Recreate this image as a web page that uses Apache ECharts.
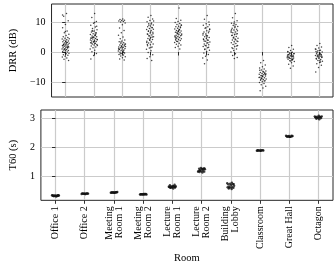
<!DOCTYPE html>
<html><head><meta charset="utf-8">
<script src="https://cdn.jsdelivr.net/npm/echarts@6/dist/echarts.min.js"></script>
<style>html,body{margin:0;padding:0;background:#fff}#c{width:335px;height:265px}</style>
</head><body><div id="c"></div>
<script>
const rooms = ['Office 1','Office 2','Meeting\nRoom 1','Meeting\nRoom 2','Lecture\nRoom 1','Lecture\nRoom 2','Building\nLobby','Classroom','Great Hall','Octagon'];
const drrTicks = [-10, 0, 10];
const t60Ticks = [1, 2, 3];

const drrOffice1 = [12.8,11.9,10.4,9.2,8.1,7.0,6.4,5.9,5.5,5.1,4.8,4.6,4.3,4.1,3.9,3.7,3.5,3.4,3.2,3.0,2.9,2.7,2.6,2.4,2.3,2.1,2.0,1.9,1.7,1.6,1.4,1.3,1.1,1.0,0.8,0.7,0.5,0.4,0.2,0.0,-0.2,-0.4,-0.6,-0.9,-1.1,-1.4,-1.7,-2.0,-2.4,-2.8,3.6,2.2,1.5,0.9,4.4,3.1,2.5,1.8,6.8,12.3];
const drrOffice2 = [12.8,11.5,10.2,9.6,8.9,8.3,7.8,7.4,7.0,6.7,6.4,6.1,5.8,5.6,5.3,5.1,4.9,4.7,4.5,4.3,4.1,3.9,3.7,3.5,3.3,3.1,2.9,2.7,2.5,2.3,2.0,1.7,1.4,1.0,0.6,0.1,-0.5,-1.2,-2.3,5.5,4.8,4.2,3.6,3.0,6.3,5.0,4.0,2.8,7.2,8.6,3.4,4.6,5.9,6.9,2.2,9.8];
const drrMeeting1 = [11.0,10.8,10.6,10.5,10.3,10.2,10.0,9.7,9.1,8.0,7.2,6.4,5.6,5.0,4.4,4.0,3.7,3.4,3.1,2.9,2.7,2.5,2.3,2.1,1.9,1.7,1.6,1.4,1.2,1.0,0.9,0.7,0.5,0.3,0.1,-0.1,-0.3,-0.5,-0.8,-1.0,-1.3,-1.6,-1.9,-2.3,-2.7,2.0,1.1,0.4,-0.6,2.6,1.5,0.8,-0.2,3.3,1.8,0.0];
const drrMeeting2 = [12.2,11.6,11.0,10.5,10.1,9.7,9.4,9.0,8.7,8.4,8.1,7.8,7.5,7.2,6.9,6.6,6.3,6.0,5.7,5.4,5.1,4.8,4.5,4.2,3.9,3.6,3.3,3.0,2.7,2.4,2.1,1.7,1.3,0.9,0.4,-0.2,-0.9,-1.6,-2.2,-2.8,8.9,7.6,6.7,5.9,5.0,4.1,3.2,9.3,7.0,6.1,4.6,2.5,8.2,5.3,10.3,1.5];
const drrLecture1 = [14.7,11.2,10.6,10.2,9.8,9.5,9.2,8.9,8.6,8.4,8.1,7.9,7.7,7.4,7.2,7.0,6.8,6.6,6.4,6.2,6.0,5.8,5.6,5.4,5.2,5.0,4.8,4.6,4.4,4.2,4.0,3.8,3.5,3.2,2.9,2.6,2.3,1.9,1.5,1.0,6.5,5.7,7.1,4.9,8.3,6.1,5.3,7.5,3.6,9.0,6.9,4.3];
const drrLecture2 = [12.2,10.9,10.0,9.4,8.9,8.4,7.9,7.5,7.1,6.7,6.4,6.0,5.7,5.4,5.1,4.8,4.5,4.2,3.9,3.6,3.3,3.0,2.7,2.4,2.1,1.8,1.4,1.0,0.6,0.2,-0.3,-0.8,-1.4,-2.0,-2.7,-3.9,6.9,5.5,4.3,3.1,2.2,7.7,5.0,3.7,1.6,8.1,6.2,4.0,0.8,9.1];
const drrLobby = [12.8,11.4,10.4,10.0,9.6,9.2,8.8,8.5,8.2,7.9,7.6,7.3,7.0,6.7,6.4,6.1,5.8,5.5,5.2,4.9,4.6,4.3,4.0,3.7,3.4,3.1,2.8,2.5,2.2,1.8,1.4,1.0,0.5,0.0,-0.6,-1.2,-1.8,-2.2,7.4,6.0,4.7,3.5,8.6,5.6,2.0,9.4,6.6,4.1,1.2,7.1];
const drrClassroom = [-2.8,-3.6,-4.3,-4.9,-5.3,-5.7,-6.0,-6.3,-6.5,-6.8,-7.0,-7.2,-7.4,-7.6,-7.8,-8.0,-8.2,-8.4,-8.6,-8.8,-9.0,-9.2,-9.4,-9.6,-9.9,-10.2,-10.5,-10.9,-11.4,-12.0,-12.9,-7.1,-7.9,-8.5,-6.7,-9.1,-7.5,-8.1,-6.1,-9.7,-8.7,-7.3];
const drrGreatHall = [2.2,1.5,0.9,0.5,0.2,-0.1,-0.3,-0.5,-0.7,-0.9,-1.1,-1.3,-1.4,-1.6,-1.8,-2.0,-2.2,-2.4,-2.6,-2.9,-3.2,-3.6,-4.1,-4.7,-5.4,-1.0,-1.5,-2.1,-0.6,-1.2,-1.7,-2.3,-0.4,-1.9,-2.7,-0.8,-1.4,-3.0,0.0,-2.5];
const drrOctagon = [2.8,2.2,1.7,1.3,0.9,0.6,0.3,0.0,-0.3,-0.6,-0.8,-1.0,-1.2,-1.4,-1.6,-1.8,-2.0,-2.2,-2.5,-2.8,-3.1,-3.5,-3.9,-4.4,-5.2,-6.7,-0.4,-1.1,-1.7,0.5,-2.3,-0.9,-1.5,1.0,-2.9,-0.2,-1.3,-2.0,0.2,-3.3];

const t60Office1 = [0.30,0.31,0.32,0.33,0.34,0.31,0.32,0.33,0.30,0.32,0.34,0.31,0.33,0.32,0.31,0.33];
const t60Office2 = [0.38,0.39,0.40,0.39,0.38,0.40,0.39,0.39,0.38,0.40,0.39,0.39];
const t60Meeting1 = [0.42,0.43,0.44,0.43,0.42,0.44,0.43,0.45,0.42,0.43,0.44,0.43];
const t60Meeting2 = [0.36,0.37,0.38,0.37,0.36,0.38,0.37,0.36,0.38,0.37,0.37,0.36];
const t60Lecture1 = [0.57,0.59,0.60,0.61,0.62,0.63,0.64,0.65,0.66,0.68,0.70,0.61,0.63,0.65,0.60,0.62];
const t60Lecture2 = [1.12,1.14,1.15,1.16,1.17,1.19,1.21,1.23,1.24,1.25,1.26,1.28,1.15,1.24,1.18,1.26];
const t60Lobby = [0.55,0.57,0.59,0.60,0.61,0.62,0.64,0.66,0.69,0.71,0.72,0.73,0.75,0.77,0.60,0.72];
const t60Classroom = [1.87,1.88,1.89,1.88,1.87,1.89,1.88,1.88,1.87,1.89];
const t60GreatHall = [2.35,2.36,2.37,2.38,2.39,2.36,2.37,2.38,2.35,2.37,2.39,2.36];
const t60Octagon = [2.96,2.98,3.00,3.02,3.03,3.04,3.05,3.06,3.08,3.02,3.04,3.00,3.06,3.03];

const drrData = [drrOffice1,drrOffice2,drrMeeting1,drrMeeting2,drrLecture1,drrLecture2,drrLobby,drrClassroom,drrGreatHall,drrOctagon];
const t60Data = [t60Office1,t60Office2,t60Meeting1,t60Meeting2,t60Lecture1,t60Lecture2,t60Lobby,t60Classroom,t60GreatHall,t60Octagon];

// horizontal strip spread (position only, deterministic)
function strip(groups){
  const out = [];
  groups.forEach((vals, gi) => {
    vals.forEach((v, i) => {
      const f = ((i + 1) * 0.6180339887) % 1;
      out.push([gi + (f - 0.5) * 0.26, v]);
    });
  });
  return out;
}

const FONT = 'Liberation Serif';
const idx = rooms.map((_, i) => i);
const minus = v => String(v).replace('-', '\u2212');

function xAxisFor(gridIndex, showLabels){
  return {
    type: 'value', gridIndex, min: -0.5, max: 9.5,
    axisLine: {show: false},
    axisTick: {show: true, inside: false, length: 3.5, customValues: idx, lineStyle: {color: '#000', width: 0.8}},
    splitLine: {show: true, lineStyle: {color: '#cbcbcb', width: 1.2}},
    axisLabel: showLabels ? {
      show: true, customValues: idx, rotate: 90, margin: 6,
      fontFamily: FONT, fontSize: 10, color: '#000', lineHeight: 10,
      formatter: v => rooms[Math.round(v)]
    } : {show: false},
    name: showLabels ? 'Room' : '', nameLocation: 'middle', nameGap: 51,
    nameTextStyle: {fontFamily: FONT, fontSize: 10.5, color: '#000'}
  };
}
function yAxisFor(gridIndex, min, max, ticks, name, gap){
  return {
    type: 'value', gridIndex, min, max,
    axisLine: {show: false},
    axisTick: {show: true, inside: false, length: 3.5, customValues: ticks, lineStyle: {color: '#000', width: 0.8}},
    splitLine: {show: true, lineStyle: {color: '#cbcbcb', width: 1.2}},
    axisLabel: {show: true, customValues: ticks, margin: 6, fontFamily: FONT, fontSize: 10, color: '#000', formatter: minus},
    name, nameLocation: 'middle', nameGap: gap,
    nameTextStyle: {fontFamily: FONT, fontSize: 10.5, color: '#000'}
  };
}

const chart = echarts.init(document.getElementById('c'), null, {renderer: 'canvas'});
chart.setOption({
  animation: false,
  backgroundColor: '#fff',
  grid: [
    {left: 39, top: 4, width: 294, height: 93, show: true, borderColor: '#262626', borderWidth: 1, backgroundColor: 'transparent'},
    {left: 39, top: 110, width: 294, height: 92, show: true, borderColor: '#262626', borderWidth: 1, backgroundColor: 'transparent'}
  ],
  xAxis: [xAxisFor(0, false), xAxisFor(1, true)],
  yAxis: [
    yAxisFor(0, -15, 16, drrTicks, 'DRR (dB)', 29),
    yAxisFor(1, 0.16, 3.28, t60Ticks, 'T60 (s)', 14)
  ],
  series: [
    {type: 'scatter', xAxisIndex: 0, yAxisIndex: 0, data: strip(drrData), symbol: 'circle', symbolSize: 1.5, itemStyle: {color: '#111'}, silent: true},
    {type: 'scatter', xAxisIndex: 1, yAxisIndex: 1, data: strip(t60Data), symbol: 'circle', symbolSize: 2.4, itemStyle: {color: '#111'}, silent: true}
  ]
});
</script>
</body></html>
